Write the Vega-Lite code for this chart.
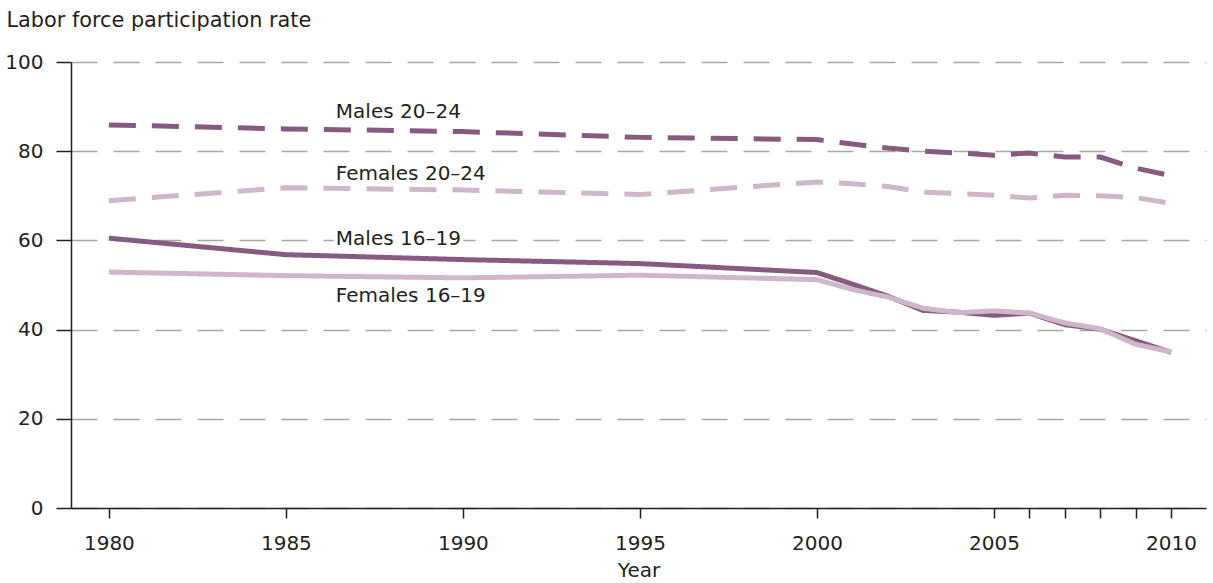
{
  "$schema": "https://vega.github.io/schema/vega-lite/v6.json",
  "width": 1135,
  "height": 446,
  "autosize": {"type": "none"},
  "padding": {"left": 71, "top": 62, "right": 7, "bottom": 75},
  "background": "white",
  "config": {
    "view": {"stroke": null},
    "font": "DejaVu Sans",
    "axis": {"labelFont": "DejaVu Sans", "titleFont": "DejaVu Sans", "labelColor": "#231f20", "titleColor": "#231f20", "titleFontWeight": "normal"}
  },
  "layer": [
    {
      "data": {"values": [
        {"year": 1980, "rate": 85.9, "series": "Males 20–24"},
        {"year": 1985, "rate": 85.0, "series": "Males 20–24"},
        {"year": 1990, "rate": 84.4, "series": "Males 20–24"},
        {"year": 1995, "rate": 83.1, "series": "Males 20–24"},
        {"year": 2000, "rate": 82.6, "series": "Males 20–24"},
        {"year": 2001, "rate": 81.6, "series": "Males 20–24"},
        {"year": 2002, "rate": 80.7, "series": "Males 20–24"},
        {"year": 2003, "rate": 80.0, "series": "Males 20–24"},
        {"year": 2004, "rate": 79.6, "series": "Males 20–24"},
        {"year": 2005, "rate": 79.1, "series": "Males 20–24"},
        {"year": 2006, "rate": 79.6, "series": "Males 20–24"},
        {"year": 2007, "rate": 78.7, "series": "Males 20–24"},
        {"year": 2008, "rate": 78.7, "series": "Males 20–24"},
        {"year": 2009, "rate": 76.2, "series": "Males 20–24"},
        {"year": 2010, "rate": 74.5, "series": "Males 20–24"},
        {"year": 1980, "rate": 68.9, "series": "Females 20–24"},
        {"year": 1985, "rate": 71.8, "series": "Females 20–24"},
        {"year": 1990, "rate": 71.3, "series": "Females 20–24"},
        {"year": 1995, "rate": 70.3, "series": "Females 20–24"},
        {"year": 2000, "rate": 73.1, "series": "Females 20–24"},
        {"year": 2001, "rate": 72.7, "series": "Females 20–24"},
        {"year": 2002, "rate": 72.1, "series": "Females 20–24"},
        {"year": 2003, "rate": 70.8, "series": "Females 20–24"},
        {"year": 2004, "rate": 70.5, "series": "Females 20–24"},
        {"year": 2005, "rate": 70.1, "series": "Females 20–24"},
        {"year": 2006, "rate": 69.5, "series": "Females 20–24"},
        {"year": 2007, "rate": 70.1, "series": "Females 20–24"},
        {"year": 2008, "rate": 70.0, "series": "Females 20–24"},
        {"year": 2009, "rate": 69.6, "series": "Females 20–24"},
        {"year": 2010, "rate": 68.3, "series": "Females 20–24"},
        {"year": 1980, "rate": 60.5, "series": "Males 16–19"},
        {"year": 1985, "rate": 56.8, "series": "Males 16–19"},
        {"year": 1990, "rate": 55.7, "series": "Males 16–19"},
        {"year": 1995, "rate": 54.8, "series": "Males 16–19"},
        {"year": 2000, "rate": 52.8, "series": "Males 16–19"},
        {"year": 2001, "rate": 50.2, "series": "Males 16–19"},
        {"year": 2002, "rate": 47.5, "series": "Males 16–19"},
        {"year": 2003, "rate": 44.3, "series": "Males 16–19"},
        {"year": 2004, "rate": 43.9, "series": "Males 16–19"},
        {"year": 2005, "rate": 43.2, "series": "Males 16–19"},
        {"year": 2006, "rate": 43.7, "series": "Males 16–19"},
        {"year": 2007, "rate": 41.1, "series": "Males 16–19"},
        {"year": 2008, "rate": 40.1, "series": "Males 16–19"},
        {"year": 2009, "rate": 37.5, "series": "Males 16–19"},
        {"year": 2010, "rate": 34.9, "series": "Males 16–19"},
        {"year": 1980, "rate": 52.9, "series": "Females 16–19"},
        {"year": 1985, "rate": 52.1, "series": "Females 16–19"},
        {"year": 1990, "rate": 51.6, "series": "Females 16–19"},
        {"year": 1995, "rate": 52.2, "series": "Females 16–19"},
        {"year": 2000, "rate": 51.2, "series": "Females 16–19"},
        {"year": 2001, "rate": 49.0, "series": "Females 16–19"},
        {"year": 2002, "rate": 47.3, "series": "Females 16–19"},
        {"year": 2003, "rate": 44.8, "series": "Females 16–19"},
        {"year": 2004, "rate": 43.8, "series": "Females 16–19"},
        {"year": 2005, "rate": 44.2, "series": "Females 16–19"},
        {"year": 2006, "rate": 43.7, "series": "Females 16–19"},
        {"year": 2007, "rate": 41.5, "series": "Females 16–19"},
        {"year": 2008, "rate": 40.2, "series": "Females 16–19"},
        {"year": 2009, "rate": 36.7, "series": "Females 16–19"},
        {"year": 2010, "rate": 35.0, "series": "Females 16–19"}
      ]},
      "mark": {"type": "line", "strokeWidth": 5, "strokeCap": "butt", "strokeJoin": "round"},
      "encoding": {
        "x": {
          "field": "year", "type": "quantitative",
          "scale": {"domain": [1978.93, 2010.99], "nice": false, "zero": false},
          "axis": {
            "values": [1980, 1985, 1990, 1995, 2000, 2005, 2006, 2007, 2008, 2009, 2010],
            "format": "d",
            "labelExpr": "datum.value % 5 === 0 ? datum.label : ''",
            "grid": false,
            "domainColor": "#231f20", "domainWidth": 1.5,
            "tickColor": "#231f20", "tickWidth": 1.5, "tickSize": 10,
            "labelFontSize": 20, "labelPadding": 15, "labelFlush": false,
            "title": "Year", "titleFontSize": 20, "titlePadding": 7
          }
        },
        "y": {
          "field": "rate", "type": "quantitative",
          "scale": {"domain": [0, 100], "nice": false},
          "axis": {
            "values": [0, 20, 40, 60, 80, 100],
            "grid": true, "gridDash": [26, 16], "gridColor": "#a8a8a0", "gridWidth": 1.5,
            "domainColor": "#231f20", "domainWidth": 1.5,
            "tickColor": "#231f20", "tickWidth": 1.5, "tickSize": 15,
            "labelFontSize": 20, "labelPadding": 13,
            "title": "Labor force participation rate", "titleFontSize": 20.8,
            "titleAngle": 0, "titleAlign": "left", "titleBaseline": "middle",
            "titleX": -65, "titleY": -42
          }
        },
        "color": {
          "field": "series", "type": "nominal", "legend": null,
          "scale": {"domain": ["Males 20–24", "Females 20–24", "Males 16–19", "Females 16–19"], "range": ["#875a80", "#cdb7c9", "#875a80", "#cdb7c9"]}
        },
        "strokeDash": {
          "field": "series", "type": "nominal", "legend": null,
          "scale": {"domain": ["Males 20–24", "Females 20–24", "Males 16–19", "Females 16–19"], "range": [[27, 16], [27, 16], [1, 0], [1, 0]]}
        }
      }
    },
    {
      "data": {"values": [
        {"year": 1986.41, "rate": 87.4, "label": "Males 20–24"},
        {"year": 1986.41, "rate": 73.5, "label": "Females 20–24"},
        {"year": 1986.41, "rate": 59.0, "label": "Males 16–19"},
        {"year": 1986.41, "rate": 46.3, "label": "Females 16–19"}
      ]},
      "mark": {"type": "text", "align": "left", "baseline": "alphabetic", "fontSize": 20, "font": "DejaVu Sans", "fill": "white", "stroke": "white", "strokeWidth": 8},
      "encoding": {
        "x": {"field": "year", "type": "quantitative"},
        "y": {"field": "rate", "type": "quantitative"},
        "text": {"field": "label"}
      }
    },
    {
      "data": {"values": [
        {"year": 1986.41, "rate": 87.4, "label": "Males 20–24"},
        {"year": 1986.41, "rate": 73.5, "label": "Females 20–24"},
        {"year": 1986.41, "rate": 59.0, "label": "Males 16–19"},
        {"year": 1986.41, "rate": 46.3, "label": "Females 16–19"}
      ]},
      "mark": {"type": "text", "align": "left", "baseline": "alphabetic", "fontSize": 20, "font": "DejaVu Sans", "color": "#231f20"},
      "encoding": {
        "x": {"field": "year", "type": "quantitative"},
        "y": {"field": "rate", "type": "quantitative"},
        "text": {"field": "label"}
      }
    }
  ]
}
